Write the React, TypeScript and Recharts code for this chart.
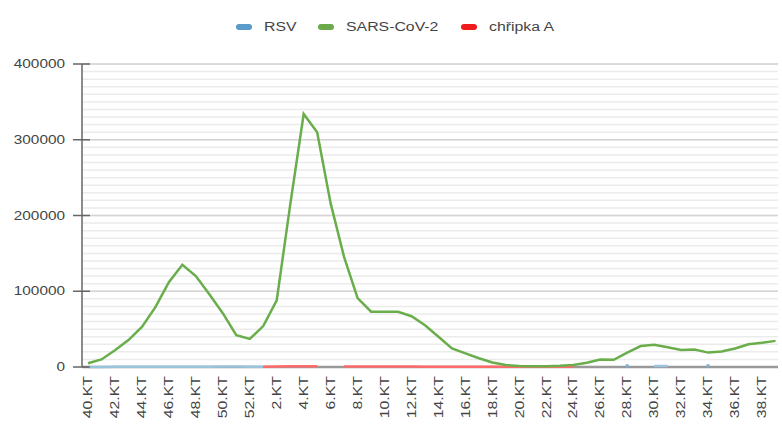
import { LineChart, Line, XAxis, YAxis, CartesianGrid } from "recharts";

// Kalendářní týdny 40/2022 – 39/2023
const weeks = [
  "40", "41", "42", "43", "44", "45", "46", "47", "48", "49", "50", "51", "52",
  "1", "2", "3", "4", "5", "6", "7", "8", "9", "10", "11", "12", "13", "14", "15",
  "16", "17", "18", "19", "20", "21", "22", "23", "24", "25", "26", "27", "28", "29",
  "30", "31", "32", "33", "34", "35", "36", "37", "38", "39",
];

const sarsCov2 = [
  5000, 10000, 22000, 35500, 53000, 79000, 112000, 135000, 120000, 96000, 71000, 42000, 37000,
  54000, 88000, 214000, 334000, 310000, 216000, 145000, 91000, 73000, 73000, 73000, 67000, 55000,
  40000, 24500, 18000, 11500, 6000, 2600, 1300, 1000, 1000, 1500, 2500, 5500, 10000, 9500,
  19000, 27700, 29500, 26000, 22500, 23000, 19000, 20500, 24500, 30000, 32000, 34500,
];

const rsv = [
  120, 150, 180, 220, 260, 300, 350, 400, 450, 480, 500, 520, 480,
  420, null, null, null, null, null, null, null, null, null, null, null, null,
  null, null, null, null, null, null, null, null, null, null, null, null, null, null,
  1500, null, 1200, 1200, null, null, 1500, null, null, null, null, null,
];

const chripkaA = [
  null, null, null, null, null, null, null, null, null, null, null, null, null,
  300, 600, 900, 1100, 1000, null, 800, 700, 650, 600, 550, 500, 450,
  400, 380, 350, 320, 300, 280, 260, 240, 220, 210, 200, null, null, null,
  null, null, null, null, null, null, null, null, null, null, null, null,
];

const yMax = 400000;
const yTicks = [0, 100000, 200000, 300000, 400000];
const gridMinor = Array.from({ length: 41 }, (_, i) => i * 10000);

const legendItems = [
  { name: "RSV", color: "#5b9bc9", left: 236 },
  { name: "SARS-CoV-2", color: "#6aaa48", left: 318 },
  { name: "chřipka A", color: "#f01c1c", left: 461 },
];

const data = weeks.map((w, i) => ({
  week: `${w}.KT`,
  rsv: rsv[i],
  sars: sarsCov2[i],
  flu: chripkaA[i],
}));

const FONT = '"Liberation Sans", Arial, sans-serif';

// grid rows at given values, via the axis scale when it is reachable
const gridFrom = (values: number[]) => (props: any) => {
  const s = props?.yAxis?.scale;
  return values.map((v) => {
    if (typeof s === "function") return s(v);
    if (s && typeof s.map === "function") return s.map(v);
    const { top, height } = props.offset;
    return top + height * (1 - v / yMax);
  });
};

function YTick({ x, y, payload }: any) {
  return (
    <g>
      <line x1={x + 8} x2={x + 25} y1={y} y2={y} stroke="#666" strokeWidth={1.5} />
      <text
        transform={`translate(${x},${y}) scale(1.28,1)`}
        textAnchor="end"
        dy="0.35em"
        fontSize={12}
        fontFamily={FONT}
        fill="#444"
      >
        {payload.value}
      </text>
    </g>
  );
}

function XTick({ x, y, payload }: any) {
  return (
    <g transform={`translate(${x},${y}) rotate(-90) scale(1.32,1)`}>
      <text textAnchor="end" dy="0.35em" fontSize={12} fontFamily={FONT} fill="#444">
        {payload.value}
      </text>
    </g>
  );
}

// isolated RSV values get a small dot, otherwise nothing
function RsvDot({ cx, cy, index }: any) {
  const alone = rsv[index] != null && rsv[index - 1] == null && rsv[index + 1] == null;
  if (!alone || cx == null) return <g key={index} />;
  return <circle key={index} cx={cx} cy={cy} r={1.8} fill="#7fb3d6" />;
}

export default function App() {
  return (
    <div style={{ position: "absolute", left: 0, top: 0, width: 782, height: 428, background: "#fff" }}>
      {legendItems.map((it) => (
        <div
          key={it.name}
          style={{ position: "absolute", left: it.left, top: 19, height: 16, display: "flex", alignItems: "center" }}
        >
          <span style={{ width: 16, height: 6, borderRadius: 3, background: it.color, display: "inline-block" }} />
          <span
            style={{
              marginLeft: 12,
              fontFamily: FONT,
              fontSize: 12,
              color: "#444",
              display: "inline-block",
              transform: "scaleX(1.32)",
              transformOrigin: "left center",
              whiteSpace: "nowrap",
            }}
          >
            {it.name}
          </span>
        </div>
      ))}
      <LineChart width={782} height={428} data={data} margin={{ top: 64, right: 4, bottom: 0, left: 0 }}>
        <CartesianGrid
          vertical={false}
          horizontalCoordinatesGenerator={gridFrom(gridMinor)}
          stroke="#ebebeb"
          strokeWidth={1.5}
        />
        <CartesianGrid
          vertical={false}
          horizontalCoordinatesGenerator={gridFrom(yTicks)}
          stroke="#d4d4d4"
          strokeWidth={1.5}
        />
        {/* baseline drawn as a grid row so the near-zero series sit on top of it */}
        <CartesianGrid
          vertical={false}
          horizontalCoordinatesGenerator={gridFrom([0])}
          stroke="#999"
          strokeWidth={2.5}
        />
        <XAxis
          dataKey="week"
          interval={1}
          height={61}
          tickLine={false}
          tickSize={6}
          tickMargin={3}
          tick={<XTick />}
          padding={{ left: 6, right: 2.5 }}
          axisLine={false}
        />
        <YAxis
          width={82}
          domain={[0, yMax]}
          ticks={yTicks}
          tickLine={false}
          tickSize={9}
          tickMargin={8}
          tick={<YTick />}
          axisLine={{ stroke: "#666", strokeWidth: 1.5 }}
        />
        <Line
          dataKey="rsv"
          stroke="#9ac3dc"
          strokeWidth={2.5}
          dot={<RsvDot />}
          activeDot={false}
          isAnimationActive={false}
        />
        <Line
          dataKey="flu"
          stroke="#ff6b6b"
          strokeWidth={2.5}
          dot={false}
          activeDot={false}
          isAnimationActive={false}
        />
        <Line
          dataKey="sars"
          stroke="#6aae4c"
          strokeWidth={2.5}
          dot={false}
          activeDot={false}
          isAnimationActive={false}
        />
      </LineChart>
    </div>
  );
}
